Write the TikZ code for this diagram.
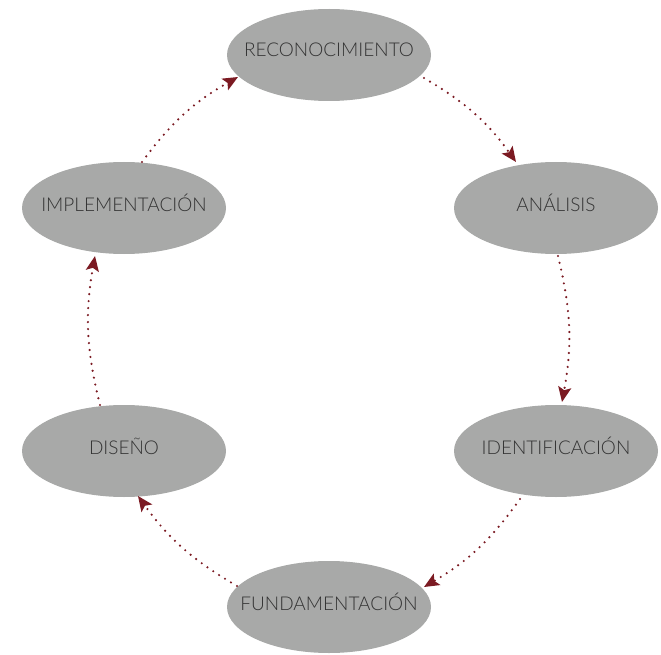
\documentclass[tikz,border=0pt]{standalone}
\usepackage{fontspec}
\setmainfont{Lato}[UprightFont=* Light]
\usetikzlibrary{shapes.geometric,arrows.meta}
\definecolor{stage}{HTML}{A8A9A8}
\definecolor{stagetext}{HTML}{333333}
\definecolor{flow}{HTML}{7B1A22}
\tikzset{
  stagebox/.style={ellipse, fill=stage, minimum width=204pt, minimum height=92pt,
    inner sep=0pt},
  stagelabel/.style={text=stagetext, inner sep=0pt, yshift=5pt,
    font=\fontsize{19}{19}\selectfont},
  flowarrow/.style={flow, line width=2.4pt, line cap=round,
    dash pattern=on 0pt off 7pt,
    -{Stealth[length=15pt,width=13pt,inset=3pt,line cap=butt,sep=0pt]}}
}
\begin{document}
\begin{tikzpicture}[x=1pt,y=-1pt]
\useasboundingbox (0,0) rectangle (661,655);
\node[stagebox, label={[stagelabel]center:RECONOCIMIENTO}] (rec) at (329,55) {};
\node[stagebox, label={[stagelabel]center:ANÁLISIS}] (ana) at (556,208) {};
\node[stagebox, label={[stagelabel]center:IDENTIFICACIÓN}] (ide) at (556,451) {};
\node[stagebox, label={[stagelabel]center:FUNDAMENTACIÓN}] (fun) at (329,607) {};
\node[stagebox, label={[stagelabel]center:DISEÑO}] (dis) at (124,451) {};
\node[stagebox, label={[stagelabel]center:IMPLEMENTACIÓN}] (imp) at (124,208) {};
\coordinate (a1) at (424,78);  \coordinate (b1) at (516,162);
\coordinate (a2) at (558,256); \coordinate (b2) at (562,402);
\coordinate (a3) at (520,499); \coordinate (b3) at (424,587);
\coordinate (a4) at (237,586); \coordinate (b4) at (138,496);
\coordinate (a5) at (100,405); \coordinate (b5) at (95,256);
\coordinate (a6) at (142,162); \coordinate (b6) at (238,77);
\draw[flowarrow] (a1) to[bend left=12] (b1);
\draw[flowarrow] (a2) to[bend left=12] (b2);
\draw[flowarrow] (a3) to[bend left=12] (b3);
\draw[flowarrow] (a4) to[bend left=12] (b4);
\draw[flowarrow] (a5) to[bend left=12] (b5);
\draw[flowarrow] (a6) to[bend left=12] (b6);
\end{tikzpicture}
\end{document}
